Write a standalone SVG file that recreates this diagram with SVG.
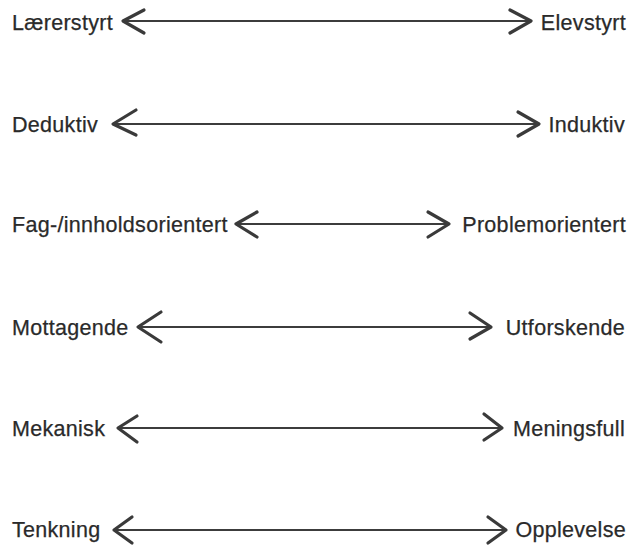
<svg xmlns="http://www.w3.org/2000/svg" width="631" height="547" viewBox="0 0 631 547">
<style>
  text { font-family: "Liberation Sans", Arial, sans-serif; font-size: 21.5px; letter-spacing: 0.3px; fill: #2a2a2a; stroke: #2a2a2a; stroke-width: 0.25px; }
  .r { text-anchor: end; }
  .ln { stroke: #3c3c3c; stroke-width: 2; fill: none; }
  .hd { stroke: #3a3a3a; stroke-width: 3.2; fill: none; stroke-linecap: round; stroke-linejoin: round; }
</style>
<rect width="631" height="547" fill="#ffffff"/>
<g id="connectors">
  <g id="a1"><line class="ln" x1="123" y1="21" x2="531" y2="21"/><polyline class="hd" points="144,10 123,21 144,33"/><polyline class="hd" points="510,10 531,21 510,33"/></g>
  <g id="a2"><line class="ln" x1="113" y1="124" x2="539" y2="124"/><polyline class="hd" points="136,110 113,124 136,135"/><polyline class="hd" points="518,112 539,124 518,136"/></g>
  <g id="a3"><line class="ln" x1="236" y1="224" x2="449" y2="224"/><polyline class="hd" points="257,212 236,224 257,237"/><polyline class="hd" points="428,212 449,224 428,237"/></g>
  <g id="a4"><line class="ln" x1="138" y1="327" x2="491" y2="327"/><polyline class="hd" points="161,312 138,327 161,342"/><polyline class="hd" points="470,313 491,327 470,339"/></g>
  <g id="a5"><line class="ln" x1="118" y1="428" x2="502" y2="428"/><polyline class="hd" points="137,416 118,428 137,442"/><polyline class="hd" points="484,414 502,428 484,440"/></g>
  <g id="a6"><line class="ln" x1="114" y1="530" x2="506" y2="530"/><polyline class="hd" points="132,517 114,530 132,543"/><polyline class="hd" points="488,517 506,530 488,543"/></g>
</g>
<g id="n-laererstyrt"><text x="12" y="30">Lærerstyrt</text></g>
<g id="n-elevstyrt"><text class="r" x="626" y="30">Elevstyrt</text></g>
<g id="n-deduktiv"><text x="12" y="132">Deduktiv</text></g>
<g id="n-induktiv"><text class="r" x="625" y="132">Induktiv</text></g>
<g id="n-fag"><text x="12" y="232">Fag-/innholdsorientert</text></g>
<g id="n-problem"><text class="r" x="626" y="232">Problemorientert</text></g>
<g id="n-mottagende"><text x="12" y="335">Mottagende</text></g>
<g id="n-utforskende"><text class="r" x="625" y="335">Utforskende</text></g>
<g id="n-mekanisk"><text x="12" y="436">Mekanisk</text></g>
<g id="n-meningsfull"><text class="r" x="625" y="436">Meningsfull</text></g>
<g id="n-tenkning"><text x="12" y="537">Tenkning</text></g>
<g id="n-opplevelse"><text class="r" x="626" y="537">Opplevelse</text></g>
</svg>
